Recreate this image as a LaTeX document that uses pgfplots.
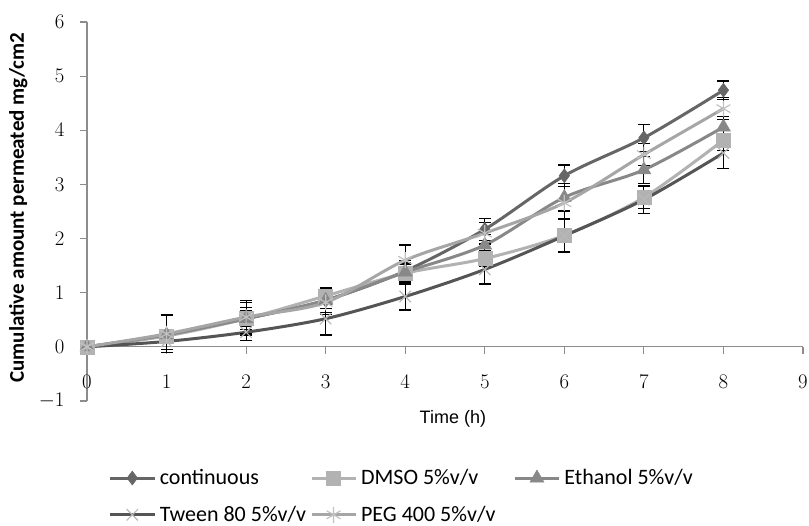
\documentclass[border=0pt]{standalone}
\usepackage{pgfplots}
\pgfplotsset{compat=1.18}
\usepackage{pgfplotstable}
\usepackage{fontspec}
\setmainfont{Carlito}
\newfontfamily\arialfont{Liberation Sans}
\definecolor{cCont}{HTML}{666666}
\definecolor{cDmso}{HTML}{B2B2B2}
\definecolor{cEth}{HTML}{888888}
\definecolor{cTween}{HTML}{555555}
\definecolor{cPeg}{HTML}{A6A6A6}
\pgfplotstableread{
x y e
0 0 0
1 0.22 0.10
2 0.52 0.15
3 0.86 0.22
4 1.40 0.20
5 2.17 0.20
6 3.16 0.20
7 3.86 0.25
8 4.74 0.17
}\tcont
\pgfplotstableread{
x y e
0 0 0
1 0.20 0.10
2 0.52 0.30
3 0.94 0.15
4 1.36 0.20
5 1.63 0.15
6 2.06 0.30
7 2.76 0.20
8 3.82 0.20
}\tdmso
\pgfplotstableread{
x y e
0 0 0
1 0.22 0.10
2 0.52 0.20
3 0.86 0.15
4 1.38 0.15
5 1.88 0.20
6 2.76 0.25
7 3.27 0.25
8 4.06 0.20
}\teth
\pgfplotstableread{
x y e
0 0 0
1 0.10 0.15
2 0.27 0.15
3 0.52 0.30
4 0.93 0.25
5 1.43 0.27
6 2.05 0.30
7 2.72 0.25
8 3.58 0.28
}\ttween
\pgfplotstableread{
x y e
0 0 0
1 0.24 0.35
2 0.55 0.30
3 0.82 0.22
4 1.60 0.28
5 2.10 0.20
6 2.66 0.30
7 3.55 0.20
8 4.40 0.20
}\tpeg
\begin{document}
\begin{tikzpicture}[x=1pt,y=1pt]
\useasboundingbox (0,0) rectangle (809,526);
\begin{axis}[
  at={(87pt,125pt)}, anchor=south west,
  scale only axis, width=716pt, height=379pt,
  xmin=0, xmax=9, ymin=-1, ymax=6,
  xtick={0,...,9}, ytick={-1,...,6},
  axis x line=middle, axis y line=left,
  hide obscured x ticks=false,
  axis line style={-, draw=black!45, line width=1.2pt},
  tick style={draw=black!45, line width=1.2pt},
  tick align=outside, major tick length=7pt,
  ticklabel style={font=\fontsize{20}{22}\selectfont},
  xticklabel style={yshift=-18pt},
  yticklabel style={xshift=-12pt},
  xlabel={\arialfont\fontsize{18}{20}\selectfont Time (h)},
  x label style={at={(axis description cs:0.511,-0.015)}, anchor=north},
  ylabel={\bfseries\fontsize{21}{24}\selectfont Cumulative amount permeated mg/cm2},
  y label style={at={(axis description cs:-0.096,0.51)}, anchor=center, rotate=0},
  every axis plot/.append style={line width=3pt, smooth, tension=0.5},
  error bars/y dir=both, error bars/y explicit,
  error bars/error bar style={black, line width=1.2pt},
  error bars/error mark options={rotate=90, mark size=6pt, black, line width=1.2pt},
  legend columns=3,
  legend style={draw=none, fill=none, at={(axis description cs:0.026,-0.17)}, anchor=north west,
    font=\fontsize{22}{24}\selectfont, row sep=16pt, column sep=2pt,
    /tikz/column 4/.style={column sep=16pt}},
  legend cell align=left,
  legend image code/.code={\draw[mark repeat=2,mark phase=2,line width=3pt] plot coordinates {(0pt,0pt) (22pt,0pt) (44pt,0pt)};},
  clip=false,
]
\addplot[color=cCont, mark=diamond*, mark size=7pt, mark options={solid, fill=cCont, line width=0.5pt}] table[x=x,y=y,y error=e]{\tcont};
\addlegendentry{continuous}
\addplot[color=cDmso, mark=square*, mark size=7pt, mark options={solid, fill=cDmso, line width=0.5pt}] table[x=x,y=y,y error=e]{\tdmso};
\addlegendentry{DMSO 5\%v/v}
\addplot[color=cEth, mark=triangle*, mark size=8pt, mark options={solid, fill=cEth, line width=0.5pt}] table[x=x,y=y,y error=e]{\teth};
\addlegendentry{Ethanol 5\%v/v}
\addplot[color=cTween, mark=x, mark size=8pt, mark options={solid, draw=cPeg!80, line width=1.2pt}] table[x=x,y=y,y error=e]{\ttween};
\addlegendentry{Tween 80 5\%v/v}
\addplot[color=cPeg, mark=asterisk, mark size=8pt, mark options={solid, draw=cPeg!70, line width=1.2pt}] table[x=x,y=y,y error=e]{\tpeg};
\addlegendentry{PEG 400 5\%v/v}
\end{axis}
\end{tikzpicture}
\end{document}
